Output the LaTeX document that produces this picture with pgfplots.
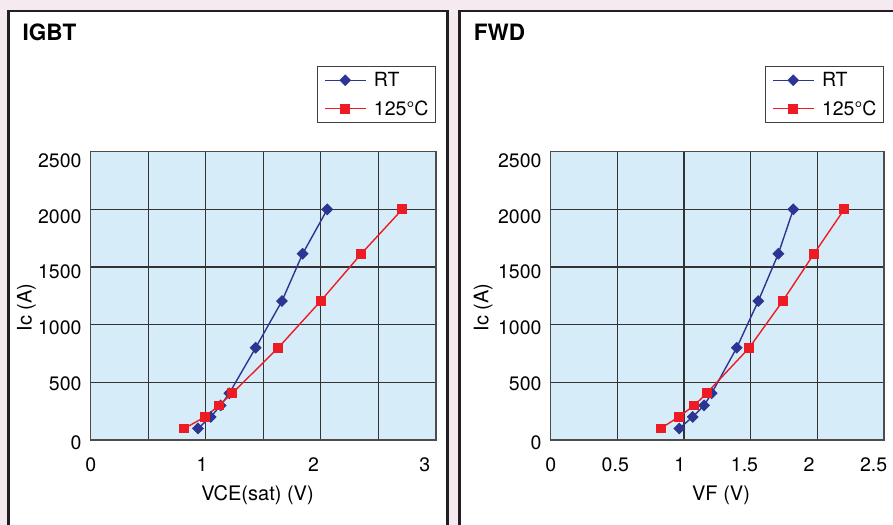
\documentclass[border=0pt]{standalone}
\usepackage{fontspec}
\setmainfont{TeX Gyre Heros}
\usepackage{pgfplots}
\pgfplotsset{compat=1.18}

\definecolor{bgpink}{RGB}{246,234,241}
\definecolor{plotbg}{RGB}{214,236,249}
\definecolor{rtblue}{RGB}{44,54,146}
\definecolor{hotred}{RGB}{237,28,36}
\definecolor{framec}{RGB}{35,31,32}

\pgfplotsset{
  panel/.style={
    scale only axis,
    height=288.3bp,
    ymin=0, ymax=2500,
    axis background/.style={fill=plotbg},
    axis line style={draw=black!70, line width=1.2bp},
    major tick length=0pt, minor tick length=0pt,
    ytick={0,518,997,1486,1960,2451},
    yticklabels={0,500,1000,1500,2000,2500},
    minor ytick={500,1000,1500,2000},
    ymajorgrids=false, xmajorgrids=false,
    yminorgrids=true, xminorgrids=true,
    minor grid style={draw=black!80, line width=1.1bp},
    tick label style={font=\fontsize{19.5bp}{23bp}\selectfont, inner sep=0pt},
    yticklabel style={anchor=east, xshift=-9bp, yshift=-3bp},
    xticklabel style={anchor=base, yshift=-31.7bp},
    label style={font=\fontsize{20bp}{24bp}\selectfont, inner sep=0pt},
    ylabel={Ic (A)},
    legend cell align=left,
    legend image code/.code={
      \draw[mark repeat=2,mark phase=2,#1]
        plot coordinates {(0bp,0bp) (20.35bp,0bp) (40.7bp,0bp)};
    },
    legend style={
      at={(rel axis cs:1,1)}, anchor=south east, yshift=28.4bp,
      draw=black!75, line width=1.2bp, fill=white,
      inner xsep=7bp, inner ysep=6bp,
      row sep=12.5bp, column sep=7.7bp,
      nodes={inner sep=0pt},
      font=\fontsize{19.5bp}{23bp}\selectfont
    },
  },
  rt/.style={color=rtblue, line width=1.4bp, mark=square*, mark size=3.5bp,
    mark options={rotate=45, fill=rtblue, solid}},
  hot/.style={color=hotred, line width=1.4bp, mark=square*, mark size=4.2bp,
    mark options={fill=hotred, solid}},
}

\begin{document}
\begin{tikzpicture}
  \useasboundingbox (0,0) rectangle (893bp,525bp);
  \clip (0,0) rectangle (893bp,525bp);
  \fill[bgpink] (0,0) rectangle (893bp,525bp);

  % the two white panels
  \draw[framec, line width=2.5bp, fill=white] (8.3bp,-20bp) rectangle (447.3bp,514bp);
  \draw[framec, line width=2.5bp, fill=white] (459.3bp,-20bp) rectangle (930bp,514bp);

  \node[anchor=base west, inner sep=0pt, font=\fontsize{22.5bp}{27bp}\selectfont\bfseries]
    at (22.3bp,484bp) {IGBT};
  \node[anchor=base west, inner sep=0pt, font=\fontsize{22.5bp}{27bp}\selectfont\bfseries]
    at (473.7bp,484bp) {FWD};

  % IGBT
  \begin{axis}[
    panel,
    at={(90.7bp,85bp)}, anchor=south west,
    width=345.3bp,
    xmin=0, xmax=3.1,
    xtick={0,1,2,3},
    xticklabels={0,1,2,3},
    minor xtick={0.5167,1.0333,1.55,2.0667,2.5833},
    xlabel={VCE(sat) (V)},
    xlabel style={at={(axis description cs:0.483,0)}, anchor=base, yshift=-60.5bp},
    ylabel style={at={(axis description cs:-0.1709,0.3757)}, anchor=base west},
  ]
    \addplot[rt] coordinates {
      (0.963,100) (1.077,200) (1.167,300) (1.244,405)
      (1.481,800) (1.717,1205) (1.903,1615) (2.124,2000)
    };
    \addplot[hot] coordinates {
      (0.840,100) (1.026,200) (1.152,300) (1.271,405)
      (1.684,800) (2.065,1205) (2.429,1615) (2.797,2000)
    };
    \legend{RT, 125°C}
  \end{axis}

  % FWD
  \begin{axis}[
    panel,
    at={(550.7bp,85bp)}, anchor=south west,
    width=333.3bp,
    xmin=0, xmax=2.58,
    xtick={0,0.5,1,1.5,2,2.5},
    xticklabels={0,0.5,1,1.5,2,2.5},
    minor xtick={0.516,1.032,1.548,2.064},
    xlabel={VF (V)},
    xlabel style={at={(axis description cs:0.511,0)}, anchor=base, yshift=-60.5bp},
    ylabel style={at={(axis description cs:-0.1872,0.3757)}, anchor=base west},
  ]
    \addplot[rt] coordinates {
      (0.995,100) (1.099,200) (1.187,300) (1.246,405)
      (1.440,800) (1.607,1205) (1.762,1615) (1.878,2000)
    };
    \addplot[hot] coordinates {
      (0.851,100) (0.991,200) (1.111,300) (1.207,405)
      (1.537,800) (1.796,1205) (2.038,1615) (2.272,2000)
    };
    \legend{RT, 125°C}
  \end{axis}
\end{tikzpicture}
\end{document}
